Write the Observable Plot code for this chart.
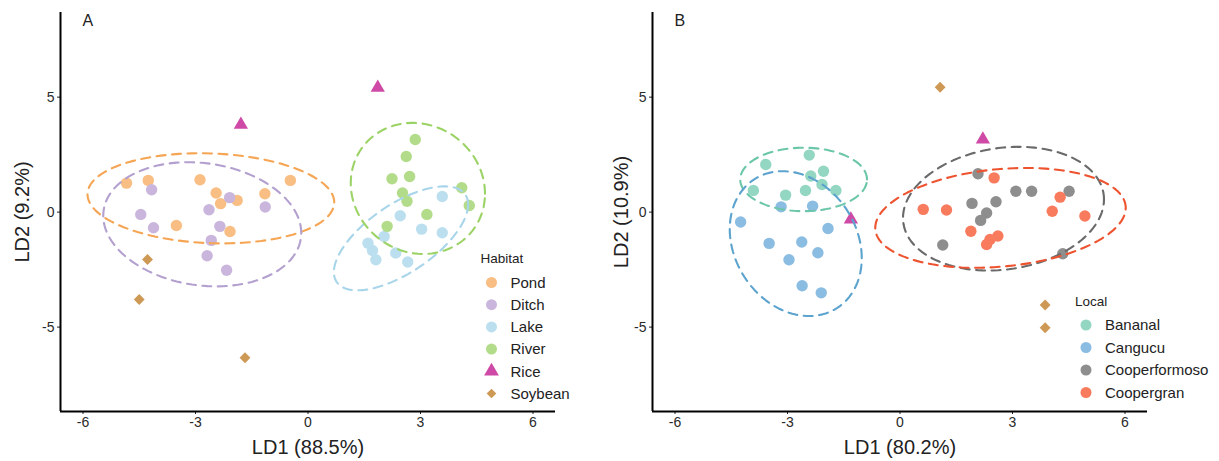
<!DOCTYPE html>
<html><head><meta charset="utf-8">
<script src="https://cdn.jsdelivr.net/npm/d3@7"></script>
<script src="https://cdn.jsdelivr.net/npm/@observablehq/plot@0.6"></script>
<style>
body{margin:0;background:#fff;font-family:"Liberation Sans",Arial,sans-serif;}
#wrap{position:relative;width:1219px;height:461px;overflow:hidden;background:#fff;}
.panel{position:absolute;top:0;}
#overlay{position:absolute;left:0;top:0;pointer-events:none;}
</style></head><body><div id="wrap"></div>
<script>
// ---------- shared axes ----------
const xDomain = [-6.6, 6.6];
const yDomain = [-8.67, 8.68];
const xTicks = [-6, -3, 0, 3, 6];
const yTicks = [-5, 0, 5];

// ---------- Panel A : Habitat ----------
const habitatCats = ["Pond", "Ditch", "Lake", "River", "Rice", "Soybean"];
const habitatDotColors = ["#F9BE83", "#CAB6DC", "#BCDFEF", "#B2DC89", "#CF4AA6", "#CD9955"];
const habitatEllipseColors = ["#F5A553", "#B3A0CF", "#A8D5EA", "#9CD366"];
const pondLD1 = [-4.84, -4.26, -2.88, -0.47, -2.45, -2.33, -1.89, -1.15, -3.51, -2.08];
const pondLD2 = [1.26, 1.38, 1.41, 1.38, 0.83, 0.37, 0.51, 0.80, -0.58, -0.84];
const ditchLD1 = [-4.17, -4.46, -4.12, -2.64, -2.09, -1.14, -2.35, -2.58, -2.69, -2.17];
const ditchLD2 = [0.97, -0.10, -0.68, 0.10, 0.63, 0.22, -0.62, -1.23, -1.90, -2.53];
const lakeLD1 = [3.58, 2.46, 3.03, 3.58, 2.03, 1.60, 1.72, 1.81, 2.34, 2.66];
const lakeLD2 = [0.68, -0.16, -0.74, -0.90, -1.06, -1.35, -1.67, -2.07, -1.78, -2.17];
const riverLD1 = [2.86, 2.62, 2.71, 2.24, 2.52, 2.64, 3.17, 4.10, 4.30, 2.11];
const riverLD2 = [3.16, 2.42, 1.55, 1.45, 0.83, 0.47, -0.10, 1.06, 0.29, -0.62];
const riceA_LD1 = [-1.79, 1.86];
const riceA_LD2 = [3.80, 5.41];
const soyA_LD1 = [-4.28, -4.50, -1.68];
const soyA_LD2 = [-2.06, -3.80, -6.33];
// ellipse read-offs (center, half-extents, correlation) for Pond, Ditch, Lake, River
const ellA_cx = [-2.59, -2.82, 2.48, 2.93];
const ellA_cy = [0.60, -0.53, -1.14, 1.03];
const ellA_sx = [3.29, 2.64, 1.79, 1.79];
const ellA_sy = [1.96, 2.70, 2.26, 2.85];
const ellA_r = [-0.09, -0.14, 0.65, -0.08];

// ---------- Panel B : Local ----------
const localCats = ["Bananal", "Cangucu", "Cooperformoso", "Coopergran"];
const localDotColors = ["#93D7C2", "#8BBCE2", "#8E8E8E", "#F97B5D"];
const localEllipseColors = ["#6CC6A9", "#5CA3CE", "#6A6A6A", "#EE5330"];
const bananalLD1 = [-2.42, -3.58, -2.04, -2.38, -2.08, -3.91, -3.05, -2.52, -1.71];
const bananalLD2 = [2.48, 2.07, 1.78, 1.57, 1.20, 0.94, 0.74, 0.94, 0.94];
const canguLD1 = [-3.17, -2.33, -4.25, -1.92, -3.49, -2.62, -2.19, -2.96, -2.61, -2.10];
const canguLD2 = [0.23, 0.26, -0.43, -0.71, -1.36, -1.30, -1.77, -2.07, -3.20, -3.51];
const cformLD1 = [2.08, 3.09, 3.51, 4.51, 1.92, 2.56, 2.31, 2.15, 1.14, 4.34];
const cformLD2 = [1.67, 0.91, 0.91, 0.91, 0.38, 0.45, -0.04, -0.36, -1.43, -1.81];
const cgranLD1 = [2.51, 4.27, 0.62, 1.24, 4.06, 4.93, 1.89, 2.61, 2.40, 2.31];
const cgranLD2 = [1.49, 0.65, 0.12, 0.09, 0.04, -0.17, -0.83, -1.04, -1.19, -1.41];
const riceB_LD1 = [2.21, -1.31];
const riceB_LD2 = [3.16, -0.32];
const soyB_LD1 = [1.07, 3.87, 3.87];
const soyB_LD2 = [5.43, -4.04, -5.03];
const ellB_cx = [-2.57, -2.78, 2.76, 2.68];
const ellB_cy = [1.42, -1.37, 0.15, -0.25];
const ellB_sx = [1.69, 1.76, 2.68, 3.34];
const ellB_sy = [1.38, 3.15, 2.69, 2.17];
const ellB_r = [0.0, -0.2, 0.15, 0.2];

// ---------- helpers ----------
const zip = (xs, ys) => xs.map((x, i) => ({x, y: ys[i]}));
function ellipseRows(cx, cy, sx, sy, r) {
  const k = Math.sqrt(1 - r * r);
  return d3.range(0, 121).map(i => {
    const t = 2 * Math.PI * i / 120;
    return {x: cx + sx * Math.cos(t), y: cy + sy * (r * Math.cos(t) + k * Math.sin(t))};
  });
}
const fmt = d => String(d);

function panel({width, marginLeft, marginRight, circleGroups, circleColors, ellipses, ellColors,
                rice, soy, riceColor, soyColor, tag, xTitle, yTitle, yTitleDx}) {
  const marks = [
    Plot.axisX({ticks: xTicks, tickFormat: fmt, tickSize: 3, tickPadding: 3, fontSize: 14, label: null, stroke: "#222", fill: "#2a2a2a"}),
    Plot.axisY({ticks: yTicks, tickFormat: fmt, tickSize: 3, tickPadding: 3, fontSize: 14, label: null, stroke: "#222", fill: "#2a2a2a"}),
    Plot.ruleX([xDomain[0]], {stroke: "#000", strokeWidth: 2}),
    Plot.ruleY([yDomain[0]], {stroke: "#000", strokeWidth: 2})
  ];
  circleGroups.forEach((g, i) => marks.push(Plot.dot(g, {x: "x", y: "y", r: 5.7, fill: circleColors[i]})));
  marks.push(Plot.dot(rice, {x: "x", y: "y", r: 5.3, symbol: "triangle", fill: riceColor}));
  marks.push(Plot.dot(soy, {x: "x", y: "y", r: 4.9, symbol: "diamond2", fill: soyColor, stroke: null}));
  ellipses.forEach((e, i) => marks.push(Plot.line(e, {x: "x", y: "y", stroke: ellColors[i], strokeWidth: 2.1, strokeDasharray: "9,6.5"})));
  marks.push(Plot.text([tag], {frameAnchor: "top-left", dx: 22, dy: 8, fontSize: 16, fill: "#222", textAnchor: "start", lineAnchor: "middle"}));
  marks.push(Plot.text([xTitle], {frameAnchor: "bottom", dy: 36, fontSize: 20, fill: "#222", lineAnchor: "middle"}));
  marks.push(Plot.text([yTitle], {frameAnchor: "left", dx: yTitleDx, rotate: -90, fontSize: 20, fill: "#222", textAnchor: "middle", lineAnchor: "middle"}));
  return Plot.plot({
    width, height: 461, marginLeft, marginRight, marginTop: 12, marginBottom: 50,
    x: {domain: xDomain}, y: {domain: yDomain},
    style: {fontFamily: "Liberation Sans, Arial, sans-serif", color: "#333", background: "white", overflow: "visible"},
    marks
  });
}

const wrap = document.getElementById("wrap");

const svgA = panel({
  width: 609, marginLeft: 60, marginRight: 54,
  circleGroups: [zip(pondLD1, pondLD2), zip(ditchLD1, ditchLD2), zip(lakeLD1, lakeLD2), zip(riverLD1, riverLD2)],
  circleColors: habitatDotColors.slice(0, 4),
  ellipses: ellA_cx.map((c, i) => ellipseRows(c, ellA_cy[i], ellA_sx[i], ellA_sy[i], ellA_r[i])),
  ellColors: habitatEllipseColors,
  rice: zip(riceA_LD1, riceA_LD2), soy: zip(soyA_LD1, soyA_LD2),
  riceColor: habitatDotColors[4], soyColor: habitatDotColors[5],
  tag: "A", xTitle: "LD1 (88.5%)", yTitle: "LD2 (9.2%)", yTitleDx: -38
});
svgA.classList.add("panel"); svgA.style.left = "0px";
wrap.appendChild(svgA);

const svgB = panel({
  width: 610, marginLeft: 43, marginRight: 72,
  circleGroups: [zip(bananalLD1, bananalLD2), zip(canguLD1, canguLD2), zip(cformLD1, cformLD2), zip(cgranLD1, cgranLD2)],
  circleColors: localDotColors,
  ellipses: ellB_cx.map((c, i) => ellipseRows(c, ellB_cy[i], ellB_sx[i], ellB_sy[i], ellB_r[i])),
  ellColors: localEllipseColors,
  rice: zip(riceB_LD1, riceB_LD2), soy: zip(soyB_LD1, soyB_LD2),
  riceColor: habitatDotColors[4], soyColor: habitatDotColors[5],
  tag: "B", xTitle: "LD1 (80.2%)", yTitle: "LD2 (10.9%)", yTitleDx: -31
});
svgB.classList.add("panel"); svgB.style.left = "609px";
wrap.appendChild(svgB);

// ---------- legends (overlay) ----------
const ov = d3.select(wrap).append("svg").attr("id", "overlay").attr("width", 1219).attr("height", 461)
  .style("font-family", "Liberation Sans, Arial, sans-serif");
function legend(title, cats, colors, symbols, x0, titleY, firstY, step) {
  const g = ov.append("g");
  g.append("text").attr("x", x0 - 11).attr("y", titleY).attr("dy", "0.35em")
    .attr("font-size", 13.5).attr("fill", "#222").text(title);
  cats.forEach((c, i) => {
    const y = firstY + i * step;
    const sym = symbols[i];
    const size = sym === d3.symbolCircle ? Math.PI * 5.5 * 5.5 : sym === d3.symbolTriangle ? 95 : 60;
    g.append("path").attr("transform", `translate(${x0},${y})`)
      .attr("d", d3.symbol(sym, size)()).attr("fill", colors[i]);
    g.append("text").attr("x", x0 + 19).attr("y", y).attr("dy", "0.35em")
      .attr("font-size", 15).attr("fill", "#222").text(c);
  });
}
legend("Habitat", habitatCats, habitatDotColors,
  [d3.symbolCircle, d3.symbolCircle, d3.symbolCircle, d3.symbolCircle, d3.symbolTriangle, d3.symbolDiamond2],
  491.5, 258, 282.5, 22.2);
legend("Local", localCats, localDotColors,
  [d3.symbolCircle, d3.symbolCircle, d3.symbolCircle, d3.symbolCircle],
  1086, 301, 325, 22.5);
</script>
</body></html>
